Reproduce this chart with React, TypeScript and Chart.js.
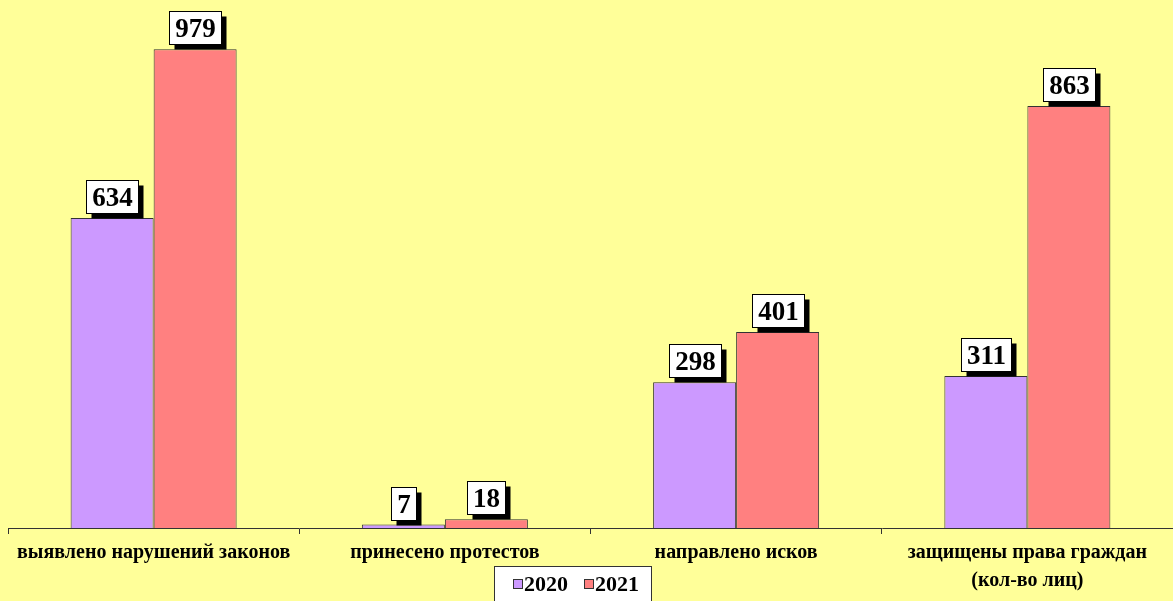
import React, { useEffect, useRef } from "react";
import { Chart, registerables } from "chart.js";

Chart.register(...registerables);

const categories: (string | string[])[] = [
  "выявлено нарушений законов",
  "принесено протестов",
  "направлено исков",
  ["защищены права граждан", "(кол-во лиц)"],
];
const seriesNames = ["2020", "2021"];
const values2020 = [634, 7, 298, 311];
const values2021 = [979, 18, 401, 863];
const colors = ["#CC99FF", "#FF8080"];

const FONT = "'Liberation Serif', 'Times New Roman', serif";

const labelPlugin = {
  id: "boxLabels",
  afterDatasetsDraw(chart: any) {
    const ctx = chart.ctx;
    ctx.save();
    ctx.font = `bold 27px ${FONT}`;
    chart.data.datasets.forEach((ds: any, di: number) => {
      const meta = chart.getDatasetMeta(di);
      meta.data.forEach((el: any, i: number) => {
        const text = String(ds.data[i]);
        const tw = ctx.measureText(text).width;
        const w = Math.round(tw + 11);
        const h = 33;
        const x = Math.round(el.x - w / 2) + 0.5;
        const y = Math.round(el.y - 5 - h) + 0.5;
        ctx.fillStyle = "#000";
        ctx.fillRect(x + 5, y + 5, w, h);
        ctx.fillStyle = "#fff";
        ctx.fillRect(x, y, w, h);
        ctx.strokeStyle = "#000";
        ctx.lineWidth = 1;
        ctx.strokeRect(x, y, w, h);
        ctx.fillStyle = "#000";
        ctx.textAlign = "center";
        ctx.textBaseline = "middle";
        ctx.fillText(text, x + w / 2, y + h / 2 + 2);
      });
    });
    ctx.restore();
  },
};

const legendPlugin = {
  id: "boxLegend",
  afterDraw(chart: any) {
    const ctx = chart.ctx;
    ctx.save();
    const bx = 494.5, by = 566.5, bw = 157, bh = 45;
    ctx.fillStyle = "#fff";
    ctx.fillRect(bx, by, bw, bh);
    ctx.strokeStyle = "#333";
    ctx.lineWidth = 1;
    ctx.strokeRect(bx, by, bw, bh);
    ctx.font = `bold 22px ${FONT}`;
    ctx.textBaseline = "middle";
    ctx.textAlign = "left";
    let x = 513;
    chart.data.datasets.forEach((ds: any) => {
      ctx.fillStyle = ds.backgroundColor;
      ctx.fillRect(x + 0.5, 579.5, 9, 9);
      ctx.strokeStyle = "#333";
      ctx.strokeRect(x + 0.5, 579.5, 9, 9);
      ctx.fillStyle = "#000";
      ctx.fillText(ds.label, x + 11, 585);
      x += 11 + ctx.measureText(ds.label).width + 16;
    });
    ctx.restore();
  },
};

export default function App() {
  const ref = useRef<HTMLCanvasElement>(null);
  useEffect(() => {
    if (!ref.current) return;
    const chart = new Chart(ref.current, {
      type: "bar",
      data: {
        labels: categories,
        datasets: [
          {
            label: seriesNames[0],
            data: values2020,
            backgroundColor: colors[0],
            borderColor: "#333",
            borderWidth: 1,
            categoryPercentage: 0.57,
            barPercentage: 1,
          },
          {
            label: seriesNames[1],
            data: values2021,
            backgroundColor: colors[1],
            borderColor: "#333",
            borderWidth: 1,
            categoryPercentage: 0.57,
            barPercentage: 1,
          },
        ],
      },
      options: {
        responsive: false,
        animation: false,
        layout: { padding: { left: 8, right: 0, top: 39, bottom: 0 } },
        plugins: { legend: { display: false }, tooltip: { enabled: false } },
        scales: {
          y: { display: false, min: 0, max: 1000 },
          x: {
            afterFit: (scale: any) => {
              scale.height = 73;
            },
            grid: {
              offset: true,
              drawOnChartArea: false,
              drawTicks: true,
              tickLength: 6,
              tickColor: "#333",
              color: "#333",
            },
            border: { color: "#333", width: 1 },
            ticks: {
              color: "#000",
              font: { family: FONT, size: 20, weight: "bold", lineHeight: 1.4 },
              padding: 5,
              maxRotation: 0,
              autoSkip: false,
            },
          },
        },
      },
      plugins: [labelPlugin, legendPlugin],
    });
    return () => chart.destroy();
  }, []);
  return (
    <div
      style={{
        position: "fixed",
        left: 0,
        top: 0,
        width: 1173,
        height: 601,
        background: "#FFFF99",
      }}
    >
      <canvas ref={ref} width={1173} height={601} />
    </div>
  );
}
